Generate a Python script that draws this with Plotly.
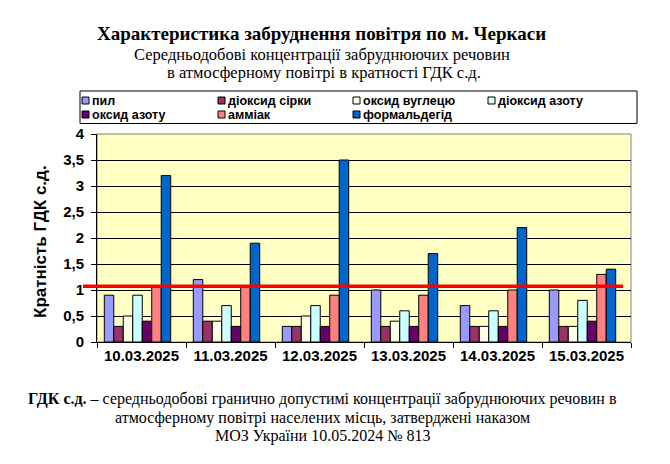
import plotly.graph_objects as go

dates = ["10.03.2025", "11.03.2025", "12.03.2025", "13.03.2025", "14.03.2025", "15.03.2025"]
dust = [0.9, 1.2, 0.3, 1.0, 0.7, 1.0]
so2 = [0.3, 0.4, 0.3, 0.3, 0.3, 0.3]
co = [0.5, 0.4, 0.5, 0.4, 0.3, 0.3]
no2 = [0.9, 0.7, 0.7, 0.6, 0.6, 0.8]
no = [0.4, 0.3, 0.3, 0.3, 0.3, 0.4]
nh3 = [1.05, 1.05, 0.9, 0.9, 1.0, 1.3]
hcho = [3.2, 1.9, 3.5, 1.7, 2.2, 1.4]
limit_value = 1.07
y_ticks = [0, 0.5, 1, 1.5, 2, 2.5, 3, 3.5, 4]
y_tick_labels = ["0", "0,5", "1", "1,5", "2", "2,5", "3", "3,5", "4"]

series = [
    ("пил", dust, "#9999FF"),
    ("діоксид сірки", so2, "#993366"),
    ("оксид вуглецю", co, "#FFFFE6"),
    ("діоксид азоту", no2, "#CCFFFF"),
    ("оксид азоту", no, "#660066"),
    ("амміак", nh3, "#FF8080"),
    ("формальдегід", hcho, "#0066CC"),
]

# page body has an 8px default margin; work in window pixels and compensate
OFF = 8
W, H = 670 - OFF, 464 - OFF
L, R, T, B = 97, 631, 134, 342  # plot area in window pixels


def px_x(x):
    return (x - L) / (R - L)


def px_y(y):
    return (B - y) / (B - T)


serif = "Liberation Serif, Times New Roman, serif"
sans = "Liberation Sans, Arial, sans-serif"

bar_w = 0.1066
group_start = -0.418

fig = go.Figure()
for i, (name, vals, color) in enumerate(series):
    fig.add_trace(go.Bar(
        x=dates, y=vals, name=name,
        width=bar_w, offset=group_start + i * bar_w,
        marker=dict(color=color, line=dict(color="black", width=1)),
        showlegend=False,
    ))

# limit line
fig.add_shape(type="line", xref="paper", yref="y",
              x0=px_x(83), x1=px_x(623), y0=limit_value, y1=limit_value,
              line=dict(color="#FF0000", width=3.5))

# plot frame (grey top/right)
fig.add_shape(type="rect", xref="paper", yref="paper", x0=0, x1=1, y0=0, y1=1,
              line=dict(color="#808080", width=1), fillcolor="rgba(0,0,0,0)", layer="below")

fig.update_layout(
    width=W, height=H,
    margin=dict(l=L - OFF, r=670 - R, t=T - OFF, b=464 - B, autoexpand=False),
    paper_bgcolor="white",
    plot_bgcolor="#FFFFC4",
    barmode="overlay",
    showlegend=False,
    xaxis=dict(
        showgrid=False,
        ticks="outside", tickson="boundaries", ticklen=5, tickcolor="black",
        showline=True, linecolor="black", linewidth=1,
        tickfont=dict(family=sans, size=15, color="black", weight="bold"),
    ),
    yaxis=dict(
        range=[0, 4],
        tickvals=y_ticks, ticktext=y_tick_labels,
        showgrid=True, gridcolor="black", gridwidth=1,
        ticks="outside", ticklen=5, tickcolor="black",
        ticklabelstandoff=4,
        showline=True, linecolor="black", linewidth=1,
        zeroline=False,
        tickfont=dict(family=sans, size=15, color="black", weight="bold"),
    ),
)

# y-axis title
fig.add_annotation(text="<b>Кратність ГДК с.д.</b>", xref="paper", yref="paper",
                   x=px_x(40), y=px_y(242), textangle=-90, showarrow=False,
                   xanchor="center", yanchor="middle",
                   font=dict(family=sans, size=17, color="black"))

# legend (manual, Excel-like two-row layout)
fig.add_shape(type="rect", xref="paper", yref="paper",
              x0=px_x(80), x1=px_x(637), y0=px_y(91), y1=px_y(123.5),
              line=dict(color="black", width=1), fillcolor="white")
col_x = [82, 218, 353, 488]
row_y = [100.5, 114.5]
sq = 7
for i, (name, vals, color) in enumerate(series):
    cx = col_x[i % 4]
    cy = row_y[i // 4]
    fig.add_shape(type="rect", xref="paper", yref="paper",
                  x0=px_x(cx), x1=px_x(cx + sq), y0=px_y(cy - sq / 2), y1=px_y(cy + sq / 2),
                  line=dict(color="black", width=1), fillcolor=color)
    fig.add_annotation(text="<b>" + name + "</b>", xref="paper", yref="paper",
                       x=px_x(cx + sq + 2), y=px_y(cy), xanchor="left", yanchor="middle",
                       showarrow=False, borderpad=0,
                       font=dict(family=sans, size=12.5, color="black"))

texts = [
    ("<b>Характеристика забруднення повітря по м. Черкаси</b>", 34, 19, 321),
    ("Середньодобові концентрації забруднюючих речовин", 54, 16.5, 322),
    ("в атмосферному повітрі в кратності ГДК с.д.", 73, 16.5, 324),
    ("<b>ГДК с.д.</b> – середньодобові гранично допустимі концентрації забруднюючих речовин в", 399, 16, 322),
    ("атмосферному повітрі населених місць, затверджені наказом", 418, 16, 322),
    ("МОЗ України 10.05.2024 № 813", 436, 16, 322),
]
for text, y, size, xc in texts:
    fig.add_annotation(
        text=text, xref="paper", yref="paper",
        x=px_x(xc), y=px_y(y), xanchor="center", yanchor="middle",
        showarrow=False,
        font=dict(family=serif, size=size, color="black"),
    )

fig.write_html("out.html")
